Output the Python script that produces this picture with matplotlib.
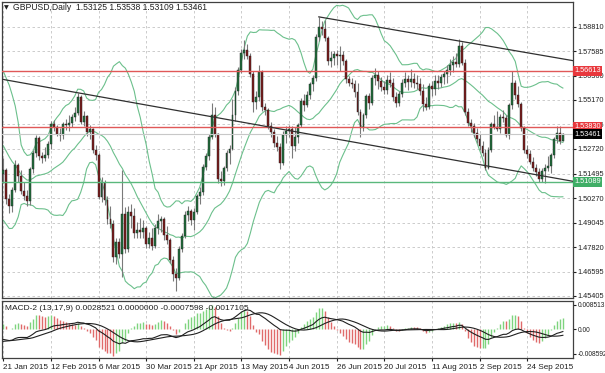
import numpy as np
import pandas as pd
import matplotlib
matplotlib.use('Agg')
import matplotlib.pyplot as plt
import matplotlib.transforms as mtransforms

plt.rcParams['font.family'] = ['Liberation Sans Narrow', 'Liberation Sans', 'DejaVu Sans']

# ---------------- data (GBPUSD daily, 21 Jan 2015 .. 12 Oct 2015) ----------------
opens = [1.5145, 1.5165, 1.5025, 1.4990, 1.5070, 1.5190, 1.5140, 1.5065, 1.5040, 1.5015,
         1.5170, 1.5250, 1.5325, 1.5235, 1.5225, 1.5240, 1.5295, 1.5395, 1.5380, 1.5345,
         1.5340, 1.5395, 1.5390, 1.5400, 1.5430, 1.5450, 1.5530, 1.5405, 1.5435, 1.5355,
         1.5370, 1.5265, 1.5240, 1.5035, 1.5105, 1.5020, 1.4925, 1.4900, 1.4735, 1.4810,
         1.4750, 1.4950, 1.4775, 1.4960, 1.4940, 1.4855, 1.4870, 1.4860, 1.4880, 1.4800,
         1.4830, 1.4790, 1.4880, 1.4915, 1.4925, 1.4845, 1.4820, 1.4720, 1.4650, 1.4630,
         1.4775, 1.4840, 1.4945, 1.4965, 1.4920, 1.4960, 1.5040, 1.5060, 1.5180, 1.5235,
         1.5330, 1.5440, 1.5345, 1.5125, 1.5115, 1.5175, 1.5250, 1.5270, 1.5440, 1.5560,
         1.5665, 1.5750, 1.5765, 1.5735, 1.5645, 1.5505, 1.5530, 1.5655, 1.5480, 1.5465,
         1.5385, 1.5355, 1.5300, 1.5280, 1.5200, 1.5340, 1.5360, 1.5370, 1.5285, 1.5330,
         1.5390, 1.5510, 1.5490, 1.5540, 1.5595, 1.5625, 1.5830, 1.5880, 1.5870, 1.5825,
         1.5710, 1.5725, 1.5745, 1.5735, 1.5740, 1.5710, 1.5620, 1.5600, 1.5595, 1.5555,
         1.5455, 1.5375, 1.5440, 1.5535, 1.5500, 1.5625, 1.5640, 1.5610, 1.5580, 1.5565,
         1.5615, 1.5600, 1.5530, 1.5500, 1.5545, 1.5600, 1.5620, 1.5605, 1.5620, 1.5600,
         1.5595, 1.5560, 1.5495, 1.5480, 1.5585, 1.5570, 1.5610, 1.5600, 1.5630, 1.5645,
         1.5665, 1.5690, 1.5705, 1.5695, 1.5785, 1.5700, 1.5455, 1.5400, 1.5385, 1.5350,
         1.5320, 1.5285, 1.5250, 1.5175, 1.5265, 1.5395, 1.5380, 1.5370, 1.5430, 1.5425,
         1.5340, 1.5490, 1.5600, 1.5540, 1.5495, 1.5375, 1.5265, 1.5245, 1.5205, 1.5175,
         1.5155, 1.5125, 1.5160, 1.5175, 1.5185, 1.5240, 1.5320, 1.5350, 1.53125]
highs = [1.5225, 1.5175, 1.5050, 1.5085, 1.5215, 1.5200, 1.5165, 1.5110, 1.5070, 1.5180,
         1.5265, 1.5340, 1.5335, 1.5255, 1.5280, 1.5310, 1.5410, 1.5415, 1.5390, 1.5375,
         1.5405, 1.5420, 1.5440, 1.5445, 1.5480, 1.5552, 1.5540, 1.5460, 1.5440, 1.5390,
         1.5375, 1.5290, 1.5250, 1.5135, 1.5120, 1.5040, 1.4990, 1.4920, 1.4830, 1.4830,
         1.5165, 1.4985, 1.4990, 1.5000, 1.4980, 1.4910, 1.4930, 1.4920, 1.4890, 1.4860,
         1.4880, 1.4900, 1.4950, 1.4940, 1.4935, 1.4890, 1.4830, 1.4740, 1.4680, 1.4790,
         1.4855, 1.4965, 1.4990, 1.4975, 1.4980, 1.5050, 1.5085, 1.5195, 1.5250, 1.5345,
         1.5500, 1.5480, 1.5350, 1.5160, 1.5185, 1.5265, 1.5290, 1.5520, 1.5580, 1.5680,
         1.5770, 1.5815, 1.5795, 1.5750, 1.5660, 1.5560, 1.5690, 1.5665, 1.5500, 1.5475,
         1.5405, 1.5370, 1.5335, 1.5300, 1.5360, 1.5385, 1.5390, 1.5385, 1.5380, 1.5400,
         1.5525, 1.5545, 1.5560, 1.5605, 1.5640, 1.5845, 1.5930, 1.5910, 1.5915, 1.5835,
         1.5760, 1.5760, 1.5765, 1.5785, 1.5760, 1.5720, 1.5635, 1.5625, 1.5615, 1.5600,
         1.5470, 1.5450, 1.5545, 1.5550, 1.5640, 1.5675, 1.5660, 1.5630, 1.5610, 1.5640,
         1.5655, 1.5625, 1.5555, 1.5560, 1.5620, 1.5655, 1.5640, 1.5670, 1.5650, 1.5640,
         1.5625, 1.5595, 1.5530, 1.5600, 1.5610, 1.5640, 1.5640, 1.5645, 1.5660, 1.5690,
         1.5720, 1.5735, 1.5750, 1.5820, 1.5805, 1.5720, 1.5475, 1.5420, 1.5400, 1.5375,
         1.5345, 1.5310, 1.5270, 1.5280, 1.5405, 1.5440, 1.5460, 1.5445, 1.5465, 1.5440,
         1.5500, 1.5660, 1.5615, 1.5585, 1.5505, 1.5385, 1.5290, 1.5265, 1.5230, 1.5195,
         1.5175, 1.5175, 1.5195, 1.5235, 1.5250, 1.5330, 1.5385, 1.5385, 1.53538]
lows = [1.5105, 1.5000, 1.4952, 1.4960, 1.5060, 1.5110, 1.5050, 1.5020, 1.4990, 1.4995,
        1.5150, 1.5230, 1.5215, 1.5200, 1.5210, 1.5225, 1.5270, 1.5360, 1.5335, 1.5310,
        1.5320, 1.5365, 1.5360, 1.5380, 1.5410, 1.5440, 1.5395, 1.5385, 1.5335, 1.5320,
        1.5250, 1.5215, 1.5025, 1.5010, 1.4995, 1.4900, 1.4880, 1.4710, 1.4700, 1.4730,
        1.4635, 1.4755, 1.4760, 1.4880, 1.4830, 1.4830, 1.4830, 1.4830, 1.4780, 1.4780,
        1.4770, 1.4780, 1.4850, 1.4860, 1.4820, 1.4800, 1.4705, 1.4615, 1.4565, 1.4620,
        1.4760, 1.4830, 1.4915, 1.4895, 1.4870, 1.4950, 1.5000, 1.5045, 1.5165, 1.5215,
        1.5320, 1.5330, 1.5105, 1.5090, 1.5095, 1.5160, 1.5195, 1.5265, 1.5410, 1.5540,
        1.5650, 1.5720, 1.5720, 1.5630, 1.5455, 1.5470, 1.5510, 1.5460, 1.5440, 1.5370,
        1.5330, 1.5280, 1.5260, 1.5170, 1.5190, 1.5300, 1.5330, 1.5225, 1.5260, 1.5300,
        1.5380, 1.5460, 1.5480, 1.5520, 1.5560, 1.5610, 1.5810, 1.5840, 1.5810, 1.5690,
        1.5680, 1.5690, 1.5690, 1.5660, 1.5690, 1.5600, 1.5585, 1.5575, 1.5530, 1.5440,
        1.5330, 1.5360, 1.5425, 1.5470, 1.5490, 1.5590, 1.5570, 1.5560, 1.5545, 1.5545,
        1.5580, 1.5510, 1.5480, 1.5485, 1.5530, 1.5580, 1.5565, 1.5580, 1.5575, 1.5570,
        1.5540, 1.5460, 1.5465, 1.5470, 1.5535, 1.5540, 1.5570, 1.5580, 1.5595, 1.5600,
        1.5640, 1.5655, 1.5680, 1.5680, 1.5690, 1.5440, 1.5385, 1.5355, 1.5330, 1.5300,
        1.5265, 1.5235, 1.5165, 1.5170, 1.5255, 1.5370, 1.5360, 1.5350, 1.5405, 1.5330,
        1.5320, 1.5470, 1.5520, 1.5480, 1.5360, 1.5250, 1.5225, 1.5195, 1.5160, 1.5140,
        1.5110, 1.5110, 1.5105, 1.5160, 1.5150, 1.5225, 1.5300, 1.5295, 1.53109]
closes = [1.5165, 1.5025, 1.4990, 1.5070, 1.5190, 1.5140, 1.5065, 1.5040, 1.5015, 1.5170,
          1.5250, 1.5325, 1.5235, 1.5225, 1.5240, 1.5295, 1.5395, 1.5380, 1.5345, 1.5340,
          1.5395, 1.5390, 1.5400, 1.5430, 1.5450, 1.5530, 1.5405, 1.5435, 1.5355, 1.5370,
          1.5265, 1.5240, 1.5035, 1.5105, 1.5020, 1.4925, 1.4900, 1.4735, 1.4810, 1.4750,
          1.4950, 1.4775, 1.4960, 1.4940, 1.4855, 1.4870, 1.4860, 1.4880, 1.4800, 1.4830,
          1.4790, 1.4880, 1.4915, 1.4925, 1.4845, 1.4820, 1.4720, 1.4650, 1.4630, 1.4775,
          1.4840, 1.4945, 1.4965, 1.4920, 1.4960, 1.5040, 1.5060, 1.5180, 1.5235, 1.5330,
          1.5440, 1.5345, 1.5125, 1.5115, 1.5175, 1.5250, 1.5270, 1.5440, 1.5560, 1.5665,
          1.5750, 1.5765, 1.5735, 1.5645, 1.5505, 1.5530, 1.5655, 1.5480, 1.5465, 1.5385,
          1.5355, 1.5300, 1.5280, 1.5200, 1.5340, 1.5360, 1.5370, 1.5285, 1.5330, 1.5390,
          1.5510, 1.5490, 1.5540, 1.5595, 1.5625, 1.5830, 1.5880, 1.5870, 1.5825, 1.5710,
          1.5725, 1.5745, 1.5735, 1.5740, 1.5710, 1.5620, 1.5600, 1.5595, 1.5555, 1.5455,
          1.5375, 1.5440, 1.5535, 1.5500, 1.5625, 1.5640, 1.5610, 1.5580, 1.5565, 1.5615,
          1.5600, 1.5530, 1.5500, 1.5545, 1.5600, 1.5620, 1.5605, 1.5620, 1.5600, 1.5595,
          1.5560, 1.5495, 1.5480, 1.5585, 1.5570, 1.5610, 1.5600, 1.5630, 1.5645, 1.5665,
          1.5690, 1.5705, 1.5695, 1.5785, 1.5700, 1.5455, 1.5400, 1.5385, 1.5350, 1.5320,
          1.5285, 1.5250, 1.5175, 1.5265, 1.5395, 1.5380, 1.5370, 1.5430, 1.5425, 1.5340,
          1.5490, 1.5600, 1.5540, 1.5495, 1.5375, 1.5265, 1.5245, 1.5205, 1.5175, 1.5155,
          1.5125, 1.5160, 1.5175, 1.5185, 1.5240, 1.5320, 1.5350, 1.5310, 1.53461]
# closes before the first visible bar (indicator warm-up, Dec 2014 - 20 Jan 2015)
prior_closes = [1.5630, 1.5560, 1.5700, 1.5730, 1.5710, 1.5710, 1.5650, 1.5720, 1.5620, 1.5650,
                1.5630, 1.5550, 1.5520, 1.5570, 1.5570, 1.5550, 1.5550, 1.5540, 1.5580, 1.5575,
                1.5330, 1.5260, 1.5140, 1.5100, 1.5100, 1.5160, 1.5150, 1.5170, 1.5190, 1.5200,
                1.5140, 1.5150, 1.5140]

date_labels = ['21 Jan 2015', '12 Feb 2015', '6 Mar 2015', '30 Mar 2015', '21 Apr 2015',
               '13 May 2015', '4 Jun 2015', '26 Jun 2015', '20 Jul 2015', '11 Aug 2015',
               '2 Sep 2015', '24 Sep 2015']
date_label_bars = [0, 16, 32, 48, 64, 80, 96, 112, 128, 144, 160, 176]

price_ticks = [1.58810, 1.57585, 1.56360, 1.55170, 1.53945, 1.52720, 1.51495,
               1.50270, 1.49045, 1.47820, 1.46595, 1.45405]
resistance_levels = [1.56613, 1.53830]
support_level = 1.51089
last_price = 1.53461
upper_trend_bars = [106, 153]
upper_trend_prices = [1.5930, 1.5810]
lower_trend_bars = [25, 182]
lower_trend_prices = [1.5552, 1.5136]

macd_ticks = [0.008513, 0.0, -0.008592]
macd_tick_labels = ['0.008513', '0.00', '-0.008592']

title_text = 'GBPUSD,Daily  1.53125 1.53538 1.53109 1.53461'
macd_text = 'MACD-2 (13,17,9) 0.0028521 0.0000000 -0.0007598 -0.0017105'

# ---------------- indicators ----------------
o = np.array(opens); h = np.array(highs); l = np.array(lows); c = np.array(closes)
N = len(c)
x = np.arange(N)
allc = pd.Series(prior_closes + closes)
npre = len(prior_closes)
mid = allc.rolling(20).mean()
sd = allc.rolling(20).std(ddof=0)
bb_mid = mid.values[npre:]
bb_up = (mid + 2 * sd).values[npre:]
bb_lo = (mid - 2 * sd).values[npre:]
ema_fast = allc.ewm(span=13, adjust=False).mean()
ema_slow = allc.ewm(span=17, adjust=False).mean()
macd_all = ema_fast - ema_slow
sig_all = macd_all.rolling(9).mean()
macd = macd_all.values[npre:]
sig = sig_all.values[npre:]
hist_all = 3 * (macd_all - sig_all)
hist = hist_all.values[npre:]
hist_prev = hist_all.values[npre - 1:-1]

# ---------------- figure ----------------
W, H = 605, 373
fig = plt.figure(figsize=(W / 100, H / 100), dpi=100)
fig.patch.set_facecolor('white')

def fr(x0, y0, x1, y1):
    return [x0 / W, 1 - y1 / H, (x1 - x0) / W, (y1 - y0) / H]

ax = fig.add_axes(fr(2, 2, 573, 298))
ax2 = fig.add_axes(fr(2, 301, 573, 358))
XL = (-0.44, 191.4)
FS = 5.3

grid_kw = dict(color='#c4c4c4', lw=0.6, ls=(0, (3, 3)))
for a in (ax, ax2):
    a.set_xlim(*XL)
    for s in a.spines.values():
        s.set_color('#404040'); s.set_linewidth(0.9)
    a.set_axisbelow(True)

ax.set_ylim(1.4530, 1.6004)
ax.set_yticks(price_ticks)
ax.set_yticklabels(['%.5f' % v for v in price_ticks])
ax.yaxis.tick_right()
ax.tick_params(axis='y', labelsize=FS, length=2.5, pad=1.0, colors='#202020')
ax.set_xticks(date_label_bars)
ax.tick_params(axis='x', length=0, labelbottom=False)
ax.grid(True, **grid_kw)

# Bollinger bands
bb_col = '#6cc08c'
for band in (bb_up, bb_mid, bb_lo):
    ax.plot(x, band, color=bb_col, lw=0.8, zorder=2)

# candles
ax.vlines(x, l, h, color='#7a7a7a', lw=0.8, zorder=3)
bull = c >= o
body_bottom = np.minimum(o, c)
body_h = np.maximum(np.abs(c - o), 0.00025)
colors = np.where(bull, '#21703d', '#7d1c1c')
ax.bar(x, body_h, bottom=body_bottom, width=0.64, color=colors,
       edgecolor='#202020', linewidth=0.3, zorder=4)

# horizontal levels
ax.axhline(last_price, color='#c8c8c8', lw=0.8, zorder=5)
for lev in resistance_levels:
    ax.axhline(lev, color='#e05858', lw=1.0, zorder=5)
ax.axhline(support_level, color='#5ab87c', lw=1.0, zorder=5)

# trend lines (extended as rays)
def ray(bx, py, start):
    slope = (py[1] - py[0]) / (bx[1] - bx[0])
    xs = np.array([start, XL[1]])
    return xs, py[0] + slope * (xs - bx[0])
xs, ys = ray(upper_trend_bars, upper_trend_prices, upper_trend_bars[0])
ax.plot(xs, ys, color='#303030', lw=0.9, zorder=6)
xs, ys = ray(lower_trend_bars, lower_trend_prices, XL[0])
ax.plot(xs, ys, color='#303030', lw=0.9, zorder=6)

# right-side price boxes
trans = mtransforms.blended_transform_factory(ax.transAxes, ax.transData)
def price_box(val, fc):
    ax.text(1.0025, val, '%.5f' % val, transform=trans, ha='left', va='center',
            fontsize=FS, color='white', clip_on=False, zorder=10,
            bbox=dict(boxstyle='square,pad=0.18', fc=fc, ec='none'))
price_box(resistance_levels[0], '#e8383d')
price_box(resistance_levels[1], '#e8383d')
price_box(last_price, '#000000')
price_box(support_level, '#3fae66')

# title
fig.text(4 / W, 1 - 8 / H, '\u25BC', fontsize=4.5, va='center', ha='left', color='#202020',
         family='DejaVu Sans')
fig.text(13 / W, 1 - 8 / H, title_text, fontsize=6.2, va='center', ha='left', color='#202020')

# ---------------- MACD panel ----------------
ax2.set_ylim(-0.0100, 0.0099)
hcol = np.where(hist >= hist_prev, '#7ed47e', '#e06a6a')
ax2.vlines(x, 0, hist, colors=hcol, lw=1.0, zorder=2)
ax2.plot(x, macd, color='#202020', lw=0.8, zorder=3)
ax2.plot(x, sig, color='#202020', lw=0.8, zorder=3)
ax2.set_yticks(macd_ticks)
ax2.set_yticklabels(macd_tick_labels)
ax2.yaxis.tick_right()
ax2.tick_params(axis='y', labelsize=4.8, length=2.5, pad=1.0, colors='#202020')
ax2.set_xticks(date_label_bars)
ax2.set_xticklabels(date_labels)
ax2.tick_params(axis='x', labelsize=5.9, length=2.5, pad=2, colors='#202020')
for lbl in ax2.get_xticklabels():
    lbl.set_ha('left')
ax2.grid(True, axis='x', **grid_kw)
ax2.text(0.006, 0.93, macd_text, transform=ax2.transAxes, fontsize=6.0,
         va='top', ha='left', color='#202020')

fig.savefig('out.png', dpi=100, facecolor='white')
